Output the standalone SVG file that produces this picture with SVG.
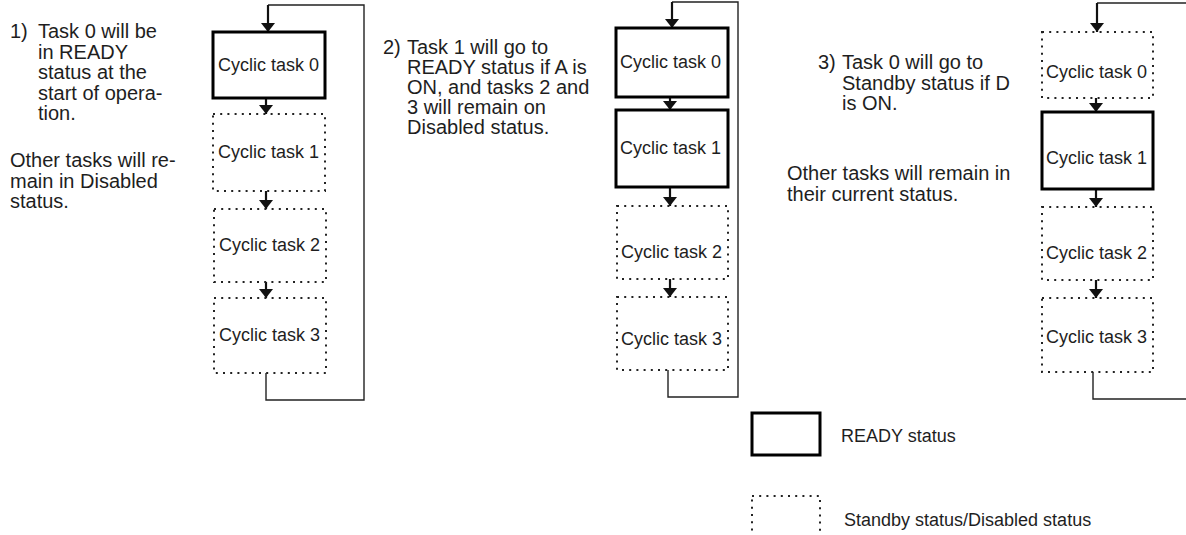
<svg xmlns="http://www.w3.org/2000/svg" width="1186" height="535" viewBox="0 0 1186 535">
<defs>
<marker id="ah" viewBox="0 0 9 14" refX="9" refY="7" markerWidth="9" markerHeight="14" markerUnits="userSpaceOnUse" orient="auto">
<path d="M0,0 L9,7 L0,14 Z" fill="#111"/>
</marker>
<style>
text{font-family:"Liberation Sans",Arial,Helvetica,sans-serif;font-size:18px;fill:#1e1e1e}
.note text{font-size:20px}
.ready{fill:#fff;stroke:#000;stroke-width:3}
.standby{fill:#fff;stroke:#222;stroke-width:2;stroke-dasharray:2 5.2;stroke-linecap:butt}
.line{fill:none;stroke:#222;stroke-width:1.4}
.arrow{fill:none;stroke:#111;stroke-width:2.2;marker-end:url(#ah)}
</style>
</defs>
<rect width="1186" height="535" fill="#fff"/>

<g id="connectors">
<path class="line" d="M266,373 V400 H364 V5 H268"/>
<line class="arrow" x1="268" y1="5" x2="268" y2="32"/>
<line class="arrow" x1="266" y1="98" x2="266" y2="114"/>
<line class="arrow" x1="266" y1="191" x2="266" y2="209"/>
<line class="arrow" x1="266" y1="282" x2="266" y2="298"/>
<path class="line" d="M668,370 V397 H738 V2 H672"/>
<line class="arrow" x1="672" y1="2" x2="672" y2="28"/>
<line class="arrow" x1="670" y1="97" x2="670" y2="110"/>
<line class="arrow" x1="670" y1="187" x2="670" y2="206"/>
<line class="arrow" x1="670" y1="279" x2="670" y2="297"/>
<path class="line" d="M1093,372 V399 H1186"/>
<path class="line" d="M1186,3 H1097"/>
<line class="arrow" x1="1097" y1="3" x2="1097" y2="32"/>
<line class="arrow" x1="1096" y1="98" x2="1096" y2="112"/>
<line class="arrow" x1="1096" y1="189" x2="1096" y2="207"/>
<line class="arrow" x1="1096" y1="280" x2="1096" y2="298"/>
</g>

<g id="c1-task0"><rect class="ready" x="213" y="32" width="112" height="66"/><text x="218" y="71">Cyclic task 0</text></g>
<g id="c1-task1"><rect class="standby" x="213" y="114" width="112" height="77"/><text x="218" y="158">Cyclic task 1</text></g>
<g id="c1-task2"><rect class="standby" x="214" y="209" width="112" height="73"/><text x="219" y="251">Cyclic task 2</text></g>
<g id="c1-task3"><rect class="standby" x="214" y="298" width="112" height="75"/><text x="219" y="341">Cyclic task 3</text></g>

<g id="c2-task0"><rect class="ready" x="616" y="28" width="112" height="69"/><text x="620" y="68">Cyclic task 0</text></g>
<g id="c2-task1"><rect class="ready" x="616" y="110" width="112" height="77"/><text x="620" y="154">Cyclic task 1</text></g>
<g id="c2-task2"><rect class="standby" x="617" y="206" width="111" height="73"/><text x="621" y="258">Cyclic task 2</text></g>
<g id="c2-task3"><rect class="standby" x="617" y="297" width="111" height="73"/><text x="621" y="345">Cyclic task 3</text></g>

<g id="c3-task0"><rect class="standby" x="1042" y="32" width="111" height="66"/><text x="1046" y="78">Cyclic task 0</text></g>
<g id="c3-task1"><rect class="ready" x="1042" y="112" width="111" height="77"/><text x="1046" y="164">Cyclic task 1</text></g>
<g id="c3-task2"><rect class="standby" x="1042" y="207" width="111" height="73"/><text x="1046" y="259">Cyclic task 2</text></g>
<g id="c3-task3"><rect class="standby" x="1042" y="298" width="111" height="74"/><text x="1046" y="343">Cyclic task 3</text></g>

<g id="note1" class="note">
<text x="10" y="38">1)</text>
<text x="38" y="38">Task 0 will be</text>
<text x="38" y="58.5">in READY</text>
<text x="38" y="79">status at the</text>
<text x="38" y="99.5">start of opera-</text>
<text x="38" y="120">tion.</text>
<text x="10" y="167">Other tasks will re-</text>
<text x="10" y="187.5">main in Disabled</text>
<text x="10" y="208">status.</text>
</g>

<g id="note2" class="note">
<text x="383" y="54">2)</text>
<text x="407" y="54">Task 1 will go to</text>
<text x="407" y="74">READY status if A is</text>
<text x="407" y="94">ON, and tasks 2 and</text>
<text x="407" y="114">3 will remain on</text>
<text x="407" y="134">Disabled status.</text>
</g>

<g id="note3" class="note">
<text x="818" y="69">3)</text>
<text x="842" y="69">Task 0 will go to</text>
<text x="842" y="90">Standby status if D</text>
<text x="842" y="110">is ON.</text>
<text x="787" y="180">Other tasks will remain in</text>
<text x="787" y="201">their current status.</text>
</g>

<g id="legend-ready"><rect class="ready" x="752" y="413" width="68" height="42"/><text x="841" y="442">READY status</text></g>
<g id="legend-standby"><rect class="standby" x="752" y="496" width="68" height="50"/><text x="844" y="526">Standby status/Disabled status</text></g>
</svg>
